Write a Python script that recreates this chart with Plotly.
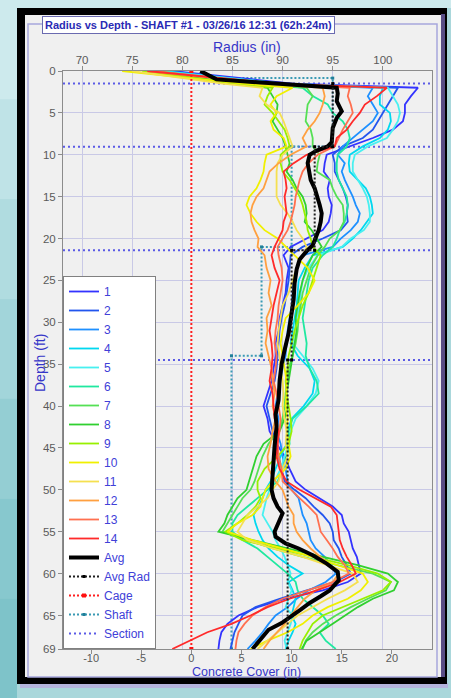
import plotly.graph_objects as go

# ---------------- data ----------------
depth = [0, 1.5, 2, 3, 4, 5, 6, 7, 8, 9, 10, 11, 12, 13, 14, 15, 16, 17, 18, 19, 20, 21,
         22, 23.5, 25, 26.5, 28, 29.5, 31, 32.5, 34, 35.5, 37, 38.5, 40, 41.5, 43, 44.5, 46, 47.5, 49,
         50, 51, 52, 53, 54, 55, 56, 57, 58, 59, 60, 61, 62, 63, 64, 65, 66, 67, 68, 69]

r01 = [79, 91, 103.5, 102.8, 102.2, 102.2, 102.0, 101.0, 99.0, 96.7, 94.4,
       94.2, 94.1, 94.7, 94.5, 94.6, 94.9, 94.8, 94.6, 94.0, 92.4, 90.8,
       90.1, 90.6, 90.4, 90.3, 90.0, 89.7, 89.6, 89.3, 89.3,
       89.1, 88.9, 88.5, 88.1, 88.5, 88.7, 89.4, 90.2, 90.7, 91.3,
       92.3, 93.6, 95.0, 95.9, 96.1, 96.6, 96.8, 97.0, 97.4, 97.6,
       97.8, 96.5, 94.0, 90.3, 87.5, 85.6, 84.5, 83.9, 83.7, 83.6]
r02 = [78.5, 90, 101.5, 101.0, 100.5, 100.0, 99.5, 99.0, 98.0, 96.0, 95.0,
       95.2, 95.2, 95.6, 96.0, 96.3, 96.5, 96.4, 96.5, 95.8, 94.0, 92.0,
       90.8, 90.7, 90.6, 90.4, 90.2, 89.9, 89.7, 89.6, 89.5,
       89.4, 89.2, 88.8, 88.4, 88.7, 89.0, 89.3, 89.6, 89.9, 90.2,
       91.2, 92.3, 93.1, 94.0, 94.7, 95.0, 95.1, 95.6, 95.9, 96.4,
       96.8, 95.2, 92.4, 89.7, 87.3, 86.0, 85.6, 85.2, 85.0, 84.8]
r03 = [78, 89, 99.0, 98.5, 99.0, 99.5, 99.0, 98.0, 97.0, 96.0, 95.5,
       96.2, 95.9, 96.2, 96.6, 97.0, 97.3, 97.7, 97.5, 96.8, 95.8, 95.0,
       92.0, 91.4, 91.1, 91.0, 90.9, 90.7, 90.5, 90.4, 90.3,
       90.0, 89.8, 89.5, 89.3, 89.6, 89.4, 89.8, 90.0, 90.3, 90.5,
       90.9, 91.6, 91.8, 92.0, 92.4, 92.6, 92.8, 93.3, 94.2, 94.8,
       95.3, 94.3, 92.6, 91.4, 90.5, 89.3, 88.6, 88.0, 87.3, 86.5]
r04 = [78, 90, 100.0, 99.7, 99.7, 100.7, 100.8, 100.5, 99.7, 98.0, 96.7,
       96.6, 96.7, 97.5, 98.3, 98.7, 98.9, 99.0, 98.4, 97.8, 97.0, 96.0,
       93.0, 92.2, 91.6, 91.5, 91.4, 91.2, 91.0, 90.8, 91.5,
       92.7, 93.2, 93.0, 92.1, 90.9, 90.5, 90.4, 89.8, 89.3, 88.8,
       88.3, 88.0, 87.6, 87.1, 87.3, 87.6, 88.0, 88.6, 89.5, 90.6,
       92.0, 90.6, 91.0, 91.3, 91.1, 90.9, 91.3, 91.0, 90.6, 90.3]
r05 = [77.5, 90, 100.5, 101.0, 101.5, 101.7, 101.5, 101.0, 100.4, 98.5, 97.2,
       97.0, 97.0, 97.5, 98.0, 98.4, 98.6, 98.7, 98.7, 98.1, 96.8, 95.9,
       93.5, 92.6, 92.0, 91.8, 91.7, 91.4, 91.2, 91.0, 92.0,
       93.0, 93.6, 93.3, 92.4, 91.3, 90.8, 90.6, 90.2, 89.8, 89.2,
       88.7, 88.4, 88.2, 88.0, 88.5, 89.0, 89.3, 89.8, 90.2, 90.5,
       90.8, 90.5, 90.9, 90.6, 90.3, 91.0, 90.8, 90.5, 90.2, 90.4]
r06 = [77, 87, 92.0, 93.0, 94.5, 95.0, 96.0, 96.5, 96.7, 96.4, 95.5,
       95.4, 95.4, 95.6, 96.0, 96.4, 96.5, 96.4, 96.2, 95.7, 95.4, 95.0,
       94.0, 93.0, 92.6, 92.4, 92.2, 92.0, 92.2, 92.4, 92.3,
       92.7, 93.4, 93.6, 92.4, 91.0, 90.6, 90.7, 90.4, 90.0, 89.5,
       88.5, 87.5, 86.5, 85.5, 85.0, 85.0, 86.0, 87.5, 88.5, 89.5,
       90.5, 91.3, 91.5, 92.0, 93.0, 94.0, 94.6, 93.7, 94.3, 95.3]
r07 = [77.5, 87, 92.4, 93.0, 92.5, 92.4, 92.3, 92.8, 93.0, 93.0, 93.7,
       93.5, 93.4, 94.7, 95.0, 95.4, 96.0, 96.1, 96.1, 95.7, 94.7, 94.2,
       93.5, 92.8, 92.4, 92.0, 91.8, 91.6, 91.5, 91.3, 91.0,
       90.6, 90.5, 90.3, 90.2, 90.0, 89.6, 88.6, 88.0, 87.6, 87.2,
       86.8, 86.0, 85.5, 85.0, 84.5, 84.0, 86.5, 89.0, 92.0, 95.5,
       99.0, 100.8, 100.3, 98.5, 96.8, 95.3, 94.0, 93.0, 92.3, 92.0]
r08 = [77, 85.5, 88.5, 89.0, 89.5, 89.4, 89.0, 89.5, 90.0, 90.3, 90.5,
       90.7, 90.4, 91.0, 91.4, 92.0, 92.3, 92.4, 92.2, 92.9, 93.4, 93.9,
       93.0, 92.4, 92.0, 91.7, 91.5, 91.3, 91.4, 91.2, 91.0,
       90.8, 90.6, 90.4, 90.5, 90.2, 89.7, 88.1, 87.4, 87.0, 86.6,
       86.4, 85.5, 85.0, 84.5, 84.2, 83.6, 87.0, 90.5, 94.0, 97.5,
       100.5, 101.5, 101.1, 99.0, 97.5, 96.3, 95.0, 93.7, 92.4, 91.9]
r09 = [76, 85, 89.0, 88.5, 88.2, 89.0, 89.6, 90.2, 90.5, 90.7, 89.8,
       89.8, 90.0, 90.7, 91.2, 91.7, 92.0, 92.2, 92.4, 92.5, 92.8, 93.0,
       93.8, 93.4, 93.0, 92.6, 92.0, 91.6, 91.2, 90.9, 90.6,
       90.5, 90.3, 90.4, 90.6, 90.8, 90.9, 90.6, 89.5, 88.2, 87.5,
       87.5, 87.8, 87.3, 86.5, 85.5, 84.3, 86.0, 89.5, 93.0, 96.5,
       99.5, 100.8, 100.0, 98.0, 96.0, 94.0, 93.0, 92.5, 92.0, 91.7]
r10 = [74, 86, 91.0, 89.4, 88.8, 89.4, 88.8, 89.1, 90.1, 90.4, 88.4,
       88.2, 88.1, 87.8, 87.4, 86.7, 86.4, 86.8, 87.4, 88.2, 89.5, 90.4,
       91.2, 92.5, 93.2, 92.6, 91.5, 90.3, 90.0, 89.8, 90.0,
       90.2, 90.4, 90.4, 90.3, 90.5, 90.4, 90.6, 90.8, 90.3, 89.0,
       88.3, 88.0, 87.8, 87.0, 85.5, 84.5, 87.0, 90.0, 93.0, 95.5,
       98.0, 98.5, 97.8, 96.5, 94.5, 93.0, 92.0, 90.5, 88.5, 86.8]
r11 = [75, 84, 88.0, 87.7, 88.4, 89.7, 90.1, 90.4, 90.7, 91.0, 90.0,
       89.5, 89.4, 89.4, 89.4, 89.4, 89.8, 90.5, 91.0, 91.4, 92.0, 92.4,
       92.0, 91.4, 91.0, 90.6, 90.0, 89.8, 89.6, 89.5, 89.7,
       89.8, 90.0, 90.1, 90.0, 90.2, 90.4, 90.3, 90.5, 90.0, 89.6,
       89.0, 88.5, 87.5, 86.5, 86.0, 85.5, 86.5, 89.0, 92.0, 94.5,
       97.0, 97.5, 96.2, 94.5, 93.0, 91.5, 90.5, 89.5, 88.5, 87.5]
r12 = [76.5, 88, 94.0, 94.2, 94.0, 93.7, 93.2, 92.5, 92.0, 92.4, 90.8,
       89.6, 88.7, 88.4, 88.1, 87.4, 87.0, 86.8, 86.9, 87.2, 87.6, 87.5,
       88.2, 88.4, 88.8, 88.6, 88.9, 88.4, 88.5, 88.3, 88.6,
       88.9, 89.0, 89.2, 89.0, 89.3, 89.0, 88.8, 88.5, 88.6, 89.3,
       90.0, 90.3, 90.6, 91.1, 91.1, 91.4, 92.0, 92.8, 93.8, 94.7,
       95.6, 95.0, 93.3, 92.2, 91.5, 90.8, 90.2, 89.4, 88.7, 88.1]
r13 = [77, 89, 96.7, 96.5, 96.8, 97.0, 96.5, 96.0, 95.6, 95.2, 93.5,
       92.6, 92.0, 91.7, 91.5, 91.3, 91.2, 91.0, 90.8, 90.5, 90.0, 89.5,
       89.6, 89.9, 90.0, 89.8, 89.6, 89.5, 89.3, 89.2, 89.4,
       89.3, 89.1, 89.4, 89.6, 89.8, 89.7, 89.5, 89.6, 89.9, 90.0,
       90.8, 91.7, 92.6, 93.4, 93.6, 93.8, 94.4, 95.0, 95.5, 96.2,
       96.6, 95.0, 92.5, 90.0, 88.3, 87.0, 86.2, 85.6, 85.4, 85.3]
r14 = [76.5, 89.5, 100.4, 99.4, 98.2, 97.7, 97.0, 96.4, 95.4, 95.2, 92.4,
       91.1, 90.1, 90.3, 90.4, 90.2, 90.3, 90.4, 90.1, 90.0, 89.6, 89.2,
       88.9, 89.2, 89.7, 89.4, 89.1, 88.9, 88.7, 88.9, 89.0,
       88.9, 88.7, 89.0, 89.1, 89.2, 89.6, 89.5, 89.4, 89.7, 90.4,
       91.7, 93.3, 94.8, 95.4, 95.5, 95.6, 95.7, 96.0, 96.4, 96.9,
       97.3, 95.7, 93.4, 90.7, 88.5, 86.8, 84.9, 82.5, 80.8, 79.0]

series_names = ["1", "2", "3", "4", "5", "6", "7", "8", "9", "10", "11", "12", "13", "14"]
series_values = [r01, r02, r03, r04, r05, r06, r07, r08, r09, r10, r11, r12, r13, r14]
series_colors = ["#3333ff", "#2255ee", "#1e90ff", "#00d8f0", "#48f0f0", "#20e8a0", "#55e055",
                 "#30d030", "#98f000", "#f0f000", "#f5e050", "#ffa040", "#ff7050", "#ff2a2a"]

avg_depth = [0, 1.0, 2, 2.7, 3.6, 4.8, 5.6, 6.8, 8.5, 9, 9.5, 10, 11, 12, 13, 14, 15, 16, 17, 18,
             19, 20, 20.8, 21.5, 22.5, 23.7, 25.3, 27.3, 29.3, 31.3, 33.3, 35, 37, 39.3, 41, 42.4,
             44.8, 46.4, 48.4, 50, 51, 52, 52.8, 54, 55, 55.6, 56.4, 57, 57.8, 58.8, 59.8, 60.8,
             62, 62.7, 63.5, 64.3, 65.1, 65.9, 66.7, 67.5, 68.3, 69]
avg_rad = [81.8, 83.4, 95.4, 95.5, 95.4, 95.9, 95.4, 95.0, 94.9, 94.5, 93.4, 92.7, 92.5, 92.6,
           92.8, 93.2, 93.5, 93.7, 93.9, 93.8, 93.6, 93.3, 93.0, 92.4, 91.7, 91.4, 91.2, 91.1,
           90.9, 90.6, 90.2, 89.9, 89.7, 89.6, 89.3, 89.4, 89.2, 89.1, 88.9, 88.9, 89.1, 89.5,
           90.0, 89.6, 89.2, 89.3, 90.3, 91.6, 93.0, 94.4, 95.5, 95.6, 94.7, 93.8, 92.7, 91.8,
           90.9, 89.9, 88.6, 88.0, 87.5, 87.0]

avgrad_depth = [1.5, 9.05, 9.05, 21.4, 21.4, 34.5, 34.5, 69]
avgrad_r = [95.0, 95.0, 93.2, 93.2, 90.9, 90.9, 90.5, 90.5]

shaft_depth = [0.85, 0.85, 9.0, 9.0, 21.0, 21.0, 34.0, 34.0, 69]
shaft_r = [83.2, 95.0, 95.0, 90.9, 90.9, 87.9, 87.9, 84.9, 84.9]

cage_depth = [0, 69]
cage_cover = [0, 0]

section_depths = [1.5, 9.05, 21.4, 34.5]

radius_ticks = [70, 75, 80, 85, 90, 95, 100]
cover_ticks = [-10, -5, 0, 5, 10, 15, 20]
cover_labels = ["-10", "-5", "0", "5", "10", "15", "20"]
depth_ticks = [0, 5, 10, 15, 20, 25, 30, 35, 40, 45, 50, 55, 60, 65, 69]

RADIUS_RANGE = [68.1, 104.9]
COVER_OFFSET = 80.9

# ---------------- figure ----------------
W, H = 451, 698
L, R, T, B = 63, 432, 71, 649


def px(x):
    return (x - L) / (R - L)


def py(y):
    return (B - y) / (B - T)


BLUE = "#3636c8"
LEG_BLUE = "#4040d8"
FONT = "Liberation Sans Narrow, Liberation Sans, Arial, sans-serif"

fig = go.Figure()

# section lines
sx, sy = [], []
for d in section_depths:
    sx += [RADIUS_RANGE[0], RADIUS_RANGE[1], None]
    sy += [d, d, None]
fig.add_trace(go.Scatter(x=sx, y=sy, mode="lines", name="Section",
                         line=dict(color="#5a5ae6", width=2, dash="2px,3px"),
                         legendrank=19))

# cage (on cover axis)
fig.add_trace(go.Scatter(x=cage_cover, y=cage_depth, xaxis="x2", mode="lines+markers",
                         name="Cage", line=dict(color="#ff2020", width=2, dash="2px,2px"),
                         marker=dict(size=4, symbol="square", color="#ff1010"),
                         legendrank=17))

# shaft
fig.add_trace(go.Scatter(x=shaft_r, y=shaft_depth, mode="lines+markers", name="Shaft",
                         line=dict(color="#3a9ab4", width=2, dash="2px,2px"),
                         marker=dict(size=3, symbol="square", color="#1f7f99"),
                         legendrank=18))

for i, (nm, vals, col) in enumerate(zip(series_names, series_values, series_colors)):
    fig.add_trace(go.Scatter(x=vals, y=depth, mode="lines", name=nm,
                             line=dict(color=col, width=1.8), legendrank=i + 1))

fig.add_trace(go.Scatter(x=avg_rad, y=avg_depth, mode="lines", name="Avg",
                         line=dict(color="black", width=4), legendrank=15))

fig.add_trace(go.Scatter(x=avgrad_r, y=avgrad_depth, mode="lines+markers", name="Avg Rad",
                         line=dict(color="#202020", width=2, dash="2px,2px"),
                         marker=dict(size=3, symbol="square", color="black"),
                         legendrank=16))

tickfont = dict(family=FONT, size=11.5, color="#5a5a5a")
tickfont_b = dict(family=FONT, size=11, color="#5a5a5a")

fig.update_layout(
    width=W, height=H,
    margin=dict(l=L, r=W - R, t=T, b=H - B, pad=0),
    paper_bgcolor="#a9d7db",
    plot_bgcolor="#f0f0f0",
    xaxis=dict(range=RADIUS_RANGE, side="top", tickvals=radius_ticks,
               showgrid=True, gridcolor="#c9c9e6", gridwidth=1, zeroline=False,
               showline=True, linecolor="#8c8c8c", linewidth=1, mirror=True,
               ticks="outside", ticklen=4, tickcolor="#8c8c8c", tickfont=tickfont,
               ticklabelstandoff=-3),
    xaxis2=dict(range=[RADIUS_RANGE[0] - COVER_OFFSET, RADIUS_RANGE[1] - COVER_OFFSET],
                overlaying="x", side="bottom", tickvals=cover_ticks, ticktext=cover_labels,
                showgrid=False, zeroline=False, showline=False, ticklabelstandoff=-5,
                ticks="outside", ticklen=4, tickcolor="#8c8c8c", tickfont=tickfont_b),
    yaxis=dict(range=[69, 0], tickvals=depth_ticks, showgrid=True, gridcolor="#c9c9e6",
               gridwidth=1, zeroline=False, showline=True, linecolor="#8c8c8c", linewidth=1,
               mirror=True, ticks="outside", ticklen=4, tickcolor="#8c8c8c", tickfont=tickfont),
    showlegend=True,
    legend=dict(x=0, y=0, xanchor="left", yanchor="bottom", bgcolor="white",
                bordercolor="#808080", borderwidth=1, traceorder="normal",
                font=dict(family=FONT, size=12, color=LEG_BLUE),
                itemwidth=30, tracegroupgap=0),
)

# ---- frame decoration ----
shapes = []
bands = ["#cdeaed", "#bfe3e7", "#b0dce0", "#a2d5da", "#94ced3", "#87c8ce", "#7ec3c9"]
bh = H / len(bands)
for k, c in enumerate(bands):
    shapes.append(dict(type="rect", xref="paper", yref="paper", layer="below",
                       x0=px(0), x1=px(17), y0=py(k * bh), y1=py((k + 1) * bh),
                       fillcolor=c, line=dict(width=0)))
shapes.append(dict(type="rect", xref="paper", yref="paper", layer="below",
                   x0=px(17), x1=px(W), y0=py(0), y1=py(8),
                   fillcolor="#cdeaed", line=dict(width=0)))
shapes.append(dict(type="rect", xref="paper", yref="paper", layer="below",
                   x0=px(20), x1=px(448), y0=py(683), y1=py(688),
                   fillcolor="#b4b4dc", line=dict(width=0)))
shapes.append(dict(type="rect", xref="paper", yref="paper", layer="below",
                   x0=px(17), x1=px(447), y0=py(8), y1=py(684),
                   fillcolor="#000000", line=dict(width=0)))
shapes.append(dict(type="rect", xref="paper", yref="paper", layer="below",
                   x0=px(441), x1=px(445), y0=py(14), y1=py(677),
                   fillcolor="#5a4e86", line=dict(width=0)))
shapes.append(dict(type="rect", xref="paper", yref="paper", layer="below",
                   x0=px(25), x1=px(441), y0=py(15), y1=py(677),
                   fillcolor="#f0f0f0", line=dict(width=0)))
shapes.append(dict(type="rect", xref="paper", yref="paper", layer="below",
                   x0=px(28), x1=px(437), y0=py(24), y1=py(677),
                   fillcolor="rgba(0,0,0,0)", line=dict(color="#a6a6dc", width=1.5)))
fig.update_layout(shapes=shapes)

annotations = [
    dict(text="<b>Radius vs Depth - SHAFT #1 - 03/26/16 12:31 (62h:24m)</b>",
         xref="paper", yref="paper", x=px(42), y=py(25), xanchor="left", yanchor="middle",
         showarrow=False, bgcolor="white", bordercolor="#6a6ab0", borderwidth=1, borderpad=2,
         font=dict(family=FONT, size=11, color="#2a2ab4")),
    dict(text="Radius (in)", xref="paper", yref="paper", x=px(247), y=py(47),
         xanchor="center", yanchor="middle", showarrow=False,
         font=dict(family=FONT, size=14, color=BLUE)),
    dict(text="Concrete Cover (in)", xref="paper", yref="paper", x=px(246), y=py(671.5),
         xanchor="center", yanchor="middle", showarrow=False,
         font=dict(family=FONT, size=12.5, color=BLUE)),
    dict(text="Depth (ft)", xref="paper", yref="paper", x=px(40), y=py(363),
         xanchor="center", yanchor="middle", showarrow=False, textangle=-90,
         font=dict(family=FONT, size=14, color=BLUE)),
]
fig.update_layout(annotations=annotations)

fig.write_html("out.html", config={"displayModeBar": False},
               post_script="document.body.style.margin='0';document.body.style.overflow='hidden';")
